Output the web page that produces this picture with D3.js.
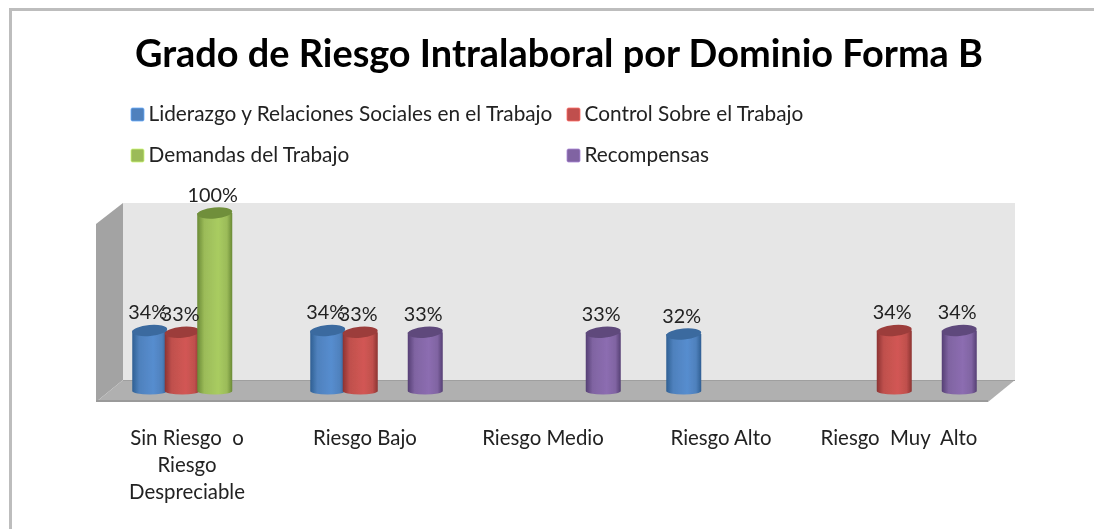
<!DOCTYPE html>
<html><head><meta charset="utf-8">
<script src="https://cdn.jsdelivr.net/npm/d3@7/dist/d3.min.js"></script>
<style>html,body{margin:0;padding:0;background:#fff}svg{display:block}text{font-family:Lato,"Open Sans",sans-serif}</style>
</head><body><svg id="c" width="1094" height="529"></svg>
<script>
const titleText = "Grado de Riesgo Intralaboral por Dominio Forma B";
const categories = [["Sin Riesgo  o","Riesgo","Despreciable"],["Riesgo Bajo"],["Riesgo Medio"],["Riesgo Alto"],["Riesgo  Muy  Alto"]];
const seriesNames = ["Liderazgo y Relaciones Sociales en el Trabajo","Control Sobre el Trabajo","Demandas del Trabajo","Recompensas"];
const liderazgo = [34,34,null,32,null];
const control = [33,33,null,null,34];
const demandas = [100,null,null,null,null];
const recompensas = [null,33,33,null,34];
const seriesValues = [liderazgo,control,demandas,recompensas];
const colors = [{m:"#4f81bd",d:"#2f5f93",t:"#3a6a9f"},{m:"#c0504d",d:"#8c3331",t:"#9c3d3a"},{m:"#9bbb59",d:"#6a8a35",t:"#6f8f3a"},{m:"#8064a2",d:"#553f74",t:"#5e4a7c"}];

const root = d3.select("#c");
const defs = root.append("defs");
colors.forEach((c,i)=>{
  const g = defs.append("linearGradient").attr("id","g"+i);
  [[0,c.d],[.2,c.m],[.6,d3.color(c.m).brighter(.25)],[.85,c.m],[1,c.d]].forEach(s=>g.append("stop").attr("offset",s[0]).attr("stop-color",s[1]));
});
const blur = defs.append("filter").attr("id","soft").attr("x","0").attr("y","0").attr("filterUnits","userSpaceOnUse").attr("width",1094).attr("height",529);
blur.append("feGaussianBlur").attr("stdDeviation",.4);
const svg = root.append("g").attr("filter","url(#soft)");
svg.append("rect").attr("width",1094).attr("height",529).attr("fill","#fff");

// frame
svg.append("path").attr("d","M10.5,529V9.5H1094").attr("fill","none").attr("stroke","#bdbdbd").attr("stroke-width",3);

// title
svg.append("text").attr("x",559).attr("y",67).attr("text-anchor","middle").attr("font-size",37.9).attr("font-weight",700).attr("fill","#000").text(titleText);

// legend
const legendPos = [[130,114],[566,114],[130,155],[566,155]];
const lg = svg.selectAll("g.leg").data(seriesNames).join("g").attr("class","leg").attr("transform",(d,i)=>`translate(${legendPos[i]})`);
lg.append("rect").attr("x",1).attr("y",-6).attr("width",13).attr("height",13).attr("rx",1.5).attr("fill",(d,i)=>colors[i].m).attr("stroke",(d,i)=>d3.color(colors[i].m).brighter(.8)).attr("stroke-width",.8);
lg.append("text").attr("x",18.5).attr("y",6.8).attr("font-size",20.8).attr("fill","#222").text(d=>d);

// scales
const x0 = d3.scaleBand().domain(d3.range(categories.length)).range([109.5,999.5]);
const x1 = d3.scaleBand().domain(d3.range(seriesNames.length)).range([0,130]);
const y = d3.scaleLinear().domain([0,100]).range([391,213]);

// 3D box
const box = svg.append("g");
box.append("path").attr("d","M123,203H1015V380H123Z").attr("fill","#e6e6e6");
box.append("path").attr("d","M96,224L123,203V380L96,402Z").attr("fill","#a3a3a3");
box.append("path").attr("d","M123,380H1015L988,402H96Z").attr("fill","#b0b0b0");
box.append("path").attr("d","M96,401H988").attr("stroke","#9a9a9a").attr("stroke-width",2);
box.append("path").attr("d","M123,380.5H1015").attr("stroke","#9f9f9f").attr("stroke-width",1);

// cylinders
const rx = 17.5, ry = 5.5;
const items = [];
seriesValues.forEach((vals,s)=>vals.forEach((v,c)=>{ if(v!==null) items.push({s,c,v}); }));
items.sort((a,b)=>a.s-b.s);
const cyl = svg.append("g");
items.forEach(d=>{
  const cx = x0(d.c)+x0.bandwidth()/2-65+x1(d.s)+x1.bandwidth()/2;
  const yt = y(d.v), yb = y(0);
  const g = cyl.append("g");
  g.append("path").attr("d",`M${cx-rx},${yt}V${yb}A${rx},3.5 0 0 0 ${cx+rx},${yb}V${yt}Z`).attr("fill",`url(#g${d.s})`);
  g.append("ellipse").attr("cx",cx).attr("cy",yt).attr("rx",rx).attr("ry",ry).attr("fill",colors[d.s].t).attr("transform",`rotate(-5 ${cx} ${yt})`);
  svg.append("text").datum(d).attr("x",cx-2).attr("y",yt-11).attr("text-anchor","middle").attr("font-size",19.8).attr("fill","#222").text(d.v+"%");
});

// category labels
const labelX = x0.bandwidth()/2;
categories.forEach((lines,i)=>{
  const t = svg.append("text").attr("text-anchor","middle").attr("font-size",20.4).attr("fill","#222");
  lines.forEach((l,j)=>t.append("tspan").style("white-space","pre").attr("x",x0(i)+labelX-11.5).attr("y",444.5+j*27).text(l));
});
</script></body></html>
